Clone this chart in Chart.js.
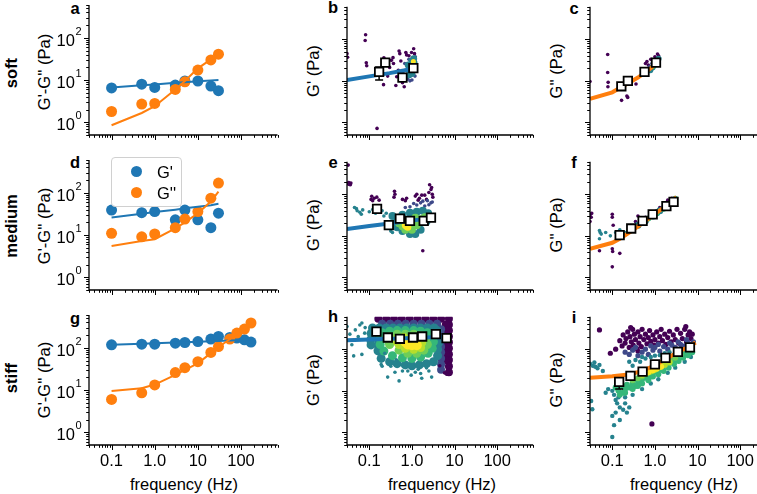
<!DOCTYPE html>
<html>
<head>
<meta charset="utf-8">
<script src="https://cdn.jsdelivr.net/npm/chart.js@4.4.0/dist/chart.umd.min.js"></script>
<style>
  body { margin: 0; background: #fff; overflow: hidden; }
  #fig { position: relative; width: 757px; height: 494px; overflow: hidden; background: #fff; }
  #fig canvas { position: absolute; }
  .t { position: absolute; font-family: "Liberation Sans", Arial, sans-serif; font-size: 16.5px; color: #000;
       white-space: nowrap; transform: translate(-50%, -50%); line-height: 1; }
  .r { transform: translate(-50%, -50%) rotate(-90deg); }
  .b { font-weight: bold; }
  #legend { position: absolute; left: 111px; top: 157px; width: 69px; height: 48px; border: 1px solid #d0d0d0;
            border-radius: 4px; background: rgba(255,255,255,0.85); }
  #legend .row { position: absolute; left: 0; height: 20px; width: 69px; }
  #legend .dot { position: absolute; left: 19px; top: 4px; width: 11px; height: 11px; border-radius: 50%; }
  #legend .lab { position: absolute; left: 45px; top: 1px; font-family: "Liberation Sans", Arial, sans-serif; font-size: 16.5px; }
</style>
</head>
<body>
<div id="fig">
  <div class="t r b" style="left:11px;top:73px">soft</div>
  <div class="t r b" style="left:11px;top:226px">medium</div>
  <div class="t r b" style="left:11px;top:378px">stiff</div>

  <div class="t r" style="left:44px;top:72px">G'-G'' (Pa)</div>
  <div class="t r" style="left:44px;top:226px">G'-G'' (Pa)</div>
  <div class="t r" style="left:44px;top:380px">G'-G'' (Pa)</div>
  <div class="t r" style="left:313px;top:71px">G' (Pa)</div>
  <div class="t r" style="left:313px;top:225px">G' (Pa)</div>
  <div class="t r" style="left:313px;top:380px">G' (Pa)</div>
  <div class="t r" style="left:556px;top:71px">G'' (Pa)</div>
  <div class="t r" style="left:556px;top:225px">G'' (Pa)</div>
  <div class="t r" style="left:556px;top:380px">G'' (Pa)</div>

  <div class="t" style="left:184px;top:484px">frequency (Hz)</div>
  <div class="t" style="left:442px;top:484px">frequency (Hz)</div>
  <div class="t" style="left:684px;top:484px">frequency (Hz)</div>

  <div class="t b" style="left:75px;top:8px">a</div>
  <div class="t b" style="left:333px;top:7px">b</div>
  <div class="t b" style="left:574px;top:8px">c</div>
  <div class="t b" style="left:75px;top:162px">d</div>
  <div class="t b" style="left:333px;top:162px">e</div>
  <div class="t b" style="left:574px;top:162px">f</div>
  <div class="t b" style="left:75px;top:318px">g</div>
  <div class="t b" style="left:333px;top:316px">h</div>
  <div class="t b" style="left:574px;top:317px">i</div>
</div>

<script>
// axis limits and ticks
const X_MIN = 0.03, X_MAX = 700;
const Y_MIN = 0.5, Y_MAX = 600;
const xTickVals = [0.1, 1, 10, 100];
const xTickText = ['0.1', '1.0', '10', '100'];
const yTickVals = [1, 10, 100];

// bulk rheology, left column
const freqSoft = [0.1, 0.5, 1, 3, 5, 10, 20, 30];
const softGp = [6.5, 8.0, 6.7, 7.6, 9.5, 9.5, 7.2, 5.6];
const softGpp = [1.8, 2.7, 2.8, 6.0, 9.1, 17.3, 30, 41];
const softGpFit = [6.7, 7.5, 7.9, 8.6, 8.9, 9.4, 9.8, 10.0];
const softGppFit = [0.85, 1.66, 2.4, 6.0, 9.5, 19, 31, 43];

const freqMed = [0.1, 0.5, 1, 3, 5, 10, 20, 30];
const medGp = [39, 34, 36, 23, 39, 23, 15, 33];
const medGpp = [11, 9.1, 10.6, 15, 24, 36, 75, 170];
const medGpFit = [26, 32, 35, 40, 43, 47, 51, 55];
const medGppFit = [5.5, 7.2, 8.0, 14.4, 20, 32.8, 62, 107];

const freqStiff = [0.1, 0.5, 1, 3, 5, 10, 20, 30, 55, 80, 120, 170];
const stiffGp = [118, 122, 122, 129, 134, 141, 161, 186, 177, 170, 155, 137];
const stiffGpp = [6.0, 8.6, 13.2, 26, 34, 47, 78, 107, 161, 224, 278, 388];
const stiffGpFit = [118, 125, 128, 133, 136, 139, 143, 145, 149, 151, 153, 155];
const stiffGppFit = [9.5, 11, 13.5, 22.8, 30, 43, 75, 105, 160, 220, 285, 390];

// binned medians (squares) and fits, middle + right columns
const bSqF = [0.17, 0.237, 0.6, 1.08];
const bSqV = [16.4, 27.3, 12.0, 20.1];
const bSqLo = [10.5, 24, 11.5, 19];
const bSqHi = [21.6, 32, 12.5, 21];
const bFitF = [0.03, 0.1, 0.3, 0.6, 1.1];
const bFitV = [10.5, 12.8, 15.3, 17.5, 19.5];

const cSqF = [0.163, 0.232, 0.57, 1.06];
const cSqV = [7.4, 10.0, 16.4, 27.3];
const cFitF = [0.03, 0.1, 0.16, 0.23, 0.4, 0.57, 0.8, 1.06, 1.3];
const cFitV = [3.7, 5.3, 7.0, 8.6, 12, 15.5, 20, 26, 31];

const eSqF = [0.152, 0.287, 0.522, 0.9, 1.89, 2.8];
const eSqV = [44.6, 18.0, 25.8, 22.8, 22.8, 27.3];
const eFitF = [0.03, 0.1, 0.3, 1, 3];
const eFitV = [14.5, 17.2, 19.8, 23.2, 27.3];

const fSqF = [0.149, 0.278, 0.514, 0.887, 1.86, 2.74];
const fSqV = [10.4, 15.0, 22.8, 32.8, 51.7, 65.3];
const fFitF = [0.03, 0.1, 0.15, 0.3, 0.5, 0.9, 1.9, 3.2];
const fFitV = [4.9, 6.8, 8.5, 13.5, 20, 31, 54, 85];

const hSqF = [0.147, 0.272, 0.522, 1.06, 1.74, 3.65, 6.5];
const hSqV = [265, 191, 178, 191, 202, 229, 184];
const hFitF = [0.03, 0.1, 0.3, 1, 3, 8];
const hFitV = [165, 172, 178, 185, 193, 200];

const iSqF = [0.145, 0.267, 0.514, 1.0, 1.77, 3.46, 6.64];
const iSqV = [16.4, 22.8, 28.8, 43, 61.9, 86, 111];
const iSqLo = [11.0, 21.5, 27.5, 41, 59, 83, 107];
const iSqHi = [20.6, 24, 30, 45, 64, 89, 115];
const iFitF = [0.03, 0.1, 0.27, 0.5, 1, 1.8, 3.5, 6.6, 9];
const iFitV = [20.5, 22.5, 25, 30, 41, 58, 86, 118, 145];

// single-cell measurements [frequency, modulus], grouped by local point density (low -> high)
const bDotsPurple = [[0.03,45],[0.031,37],[0.082,128],[0.08,93],[0.085,27],[0.087,23],[0.152,0.72],[0.216,8.1],[0.22,35.8],[0.36,36],[0.37,26],[0.33,31],[0.5,52],[0.52,45],[0.72,48],[0.75,42],[0.98,48],[1.1,59],[0.44,12.5],[0.42,7.7],[0.66,7.2],[0.6,9],[0.3,21],[0.55,30],[0.85,40],[1.15,45],[0.27,13],[0.48,18]];
const bDotsBlue = [[0.7,18],[0.75,13],[0.8,11],[0.9,10],[0.62,15],[0.68,26],[1.2,38],[1.18,13],[1.0,10.5],[0.85,33]];
const bDense1 = [[0.82,24],[0.9,19],[1.0,30],[1.1,34],[1.15,21],[1.0,15],[0.86,14],[1.12,27]];
const bDense2 = [[1.0,22],[1.1,25],[1.06,18]];
const bDense3 = [[1.1,24],[1.08,29]];

const cDotsPurple = [[0.03,9.6],[0.078,43],[0.078,15.8],[0.08,9.2],[0.079,7.2],[0.165,3.4],[0.22,4.3],[0.23,4.0],[0.36,8.4],[0.6,26],[0.65,29],[0.8,33],[1.0,38],[1.15,44],[1.22,40],[0.9,30],[0.7,24],[1.05,35]];
const cDotsBlue = [[0.75,22],[0.85,26],[1.0,31],[1.2,36],[0.65,18],[1.1,33]];
const cDense1 = [[0.78,18],[0.88,21],[0.97,24],[1.06,27],[1.15,30],[1.22,34]];
const cDense2 = [[0.92,22],[1.02,25],[1.12,28]];

const eDotsPurple = [[0.032,500],[0.033,190],[0.035,180],[0.034,172],[0.037,186],[0.036,168],[0.032,178],[0.114,89],[0.11,75],[0.13,80],[0.15,85],[0.17,72],[0.12,70],[0.39,117],[0.4,100],[0.38,85],[0.6,75],[0.7,70],[0.75,80],[1.2,90],[1.5,80],[2.0,95],[2.5,110],[2.6,169],[2.8,130],[3.0,100],[2.2,75],[1.8,4.4],[1.4,72],[3.1,85],[2.9,145],[1.3,100],[1.7,95]];
const eDotsBlue = [[1.1,60],[1.3,55],[1.6,62],[2.0,52],[2.5,56],[2.8,62],[0.9,50],[0.7,48],[3.0,65],[1.8,68],[2.3,70]];
const eDotsTeal = [[0.05,45],[0.052,40],[0.06,37],[0.07,42],[0.1,38],[0.12,43],[0.14,35],[0.2,40],[0.25,35],[0.3,15],[0.35,12],[0.32,13],[0.22,30],[0.045,48],[0.065,33]];
const eDense1 = [[0.35,30],[0.45,26],[0.6,32],[0.9,36],[1.3,38],[1.8,40],[2.4,35],[2.6,28],[2.2,22],[1.6,14],[1.2,11],[0.9,11],[0.6,13],[0.45,16],[0.5,22]];
const eDense2 = [[0.5,20],[0.6,17],[0.8,23],[1.0,20],[1.3,18],[1.0,14],[0.7,14],[1.6,25],[1.2,27],[2.0,28]];
const eDense3 = [[0.7,18],[0.8,16],[0.85,20],[0.75,17]];

const fDotsPurple = [[0.031,33],[0.032,28],[0.033,35],[0.03,22],[0.05,4.4],[0.1,33],[0.1,28],[0.105,18],[0.1,4.9],[0.102,4.2],[0.1,1.8],[0.15,3.8],[0.4,30],[0.45,27],[0.6,28],[1.3,48],[2.0,72],[2.5,80],[3.0,75],[1.5,42],[0.35,22],[2.8,60],[2.2,55]];
const fDotsTeal = [[0.05,13.4],[0.052,12],[0.05,8.5],[0.07,12],[0.12,12],[0.15,14],[0.09,10],[0.2,12],[0.055,11],[0.13,11]];
const fDense1 = [[0.3,15],[0.4,18],[0.6,23],[0.9,30],[1.3,40],[2.0,55],[2.8,70],[0.5,21],[1.1,36],[1.7,48]];
const fDense2 = [[0.7,26],[1.1,35],[1.6,45],[2.4,62],[3.0,78]];

const hDense0 = [[0.163,540],[0.249,540],[0.38,540],[0.58,540],[0.89,540],[1.36,540],[2.07,540],[3.16,540],[4.83,540],[7.38,540],
  [7.38,389],[7.38,280],[7.38,202],[7.38,146],[7.38,105],[7.38,76],[7.38,55],[7.38,39],[7.38,28],
  [6.2,389],[6.2,280],[6.2,202],[6.2,146],[6.2,105],[6.2,76],[6.2,55]];
const hDense1 = [[0.2,411],[0.308,411],[0.47,411],[0.718,411],[1.1,411],[1.67,411],[2.56,411],[3.9,411],
  [4.83,300],[4.83,220],[4.83,160],[4.83,115],[4.83,85],[4.83,60],[4.83,43],[4.83,32],[3.9,350],[3.9,250]];
const hDense2 = [[0.119,325],[0.172,325],[0.249,325],[0.36,325],[0.52,325],[0.757,325],[1.1,325],[1.59,325],[2.3,325],[3.33,325],
  [0.11,240],[0.11,175],[0.11,127],[0.16,240],[0.16,175],[0.16,127],[0.16,92],
  [0.19,60],[0.3,50],[0.45,45],[0.7,42],[1.0,40],[1.5,42],[2.2,45],[3.2,50],
  [4,70],[4,100],[4.2,140],[3.8,200],[3.9,280]];
const hDense3 = [[0.2,250],[0.3,270],[0.45,280],[0.7,280],[1.1,280],[1.6,270],[2.3,250],[3,200],[3.2,150],[3,105],[2.4,80],[1.6,65],[1.0,60],[0.6,62],[0.35,70],[0.22,90],[0.18,130],[0.18,180]];
const hDense4 = [[0.3,200],[0.45,230],[0.7,230],[1.1,230],[1.6,210],[2.1,170],[2.3,130],[1.9,95],[1.3,80],[0.8,80],[0.5,95],[0.3,130],[0.28,160]];
const hDense5 = [[0.45,180],[0.65,190],[0.95,190],[1.35,175],[1.7,145],[1.6,110],[1.1,100],[0.7,105],[0.5,130],[0.45,150]];
const hDense6 = [[0.7,150],[0.9,160],[1.15,145],[1.0,125],[0.8,130],[1.3,125]];
const hDotsTeal = [[0.03,349],[0.047,291],[0.067,427],[0.078,243],[0.039,128],[0.043,69],[0.067,75],[0.095,152],[0.055,200],[0.08,330],[0.035,230],[0.06,380],
  [0.19,43],[0.2,39],[0.32,39],[0.27,21.4],[0.5,17.3],[0.6,30],[0.96,23.8],[1.6,26],[1.7,20],[2.9,21.4],[1.4,32.9],[2.2,35.6],[0.23,80],[0.43,56],[0.4,28],[0.8,30],[1.2,28],[2.5,30]];
const hDotsPurple = [[7.1,30],[5.8,27],[7.5,45],[4.5,40],[6.5,25],[8,60]];

const iDotsPurple = [[0.15,160],[0.17,120],[0.18,220],[0.2,140],[0.21,180],[0.23,260],[0.25,110],[0.26,200],[0.28,150],[0.3,300],[0.31,125],[0.33,230],[0.35,170],[0.37,105],[0.4,260],[0.42,140],[0.45,200],[0.48,115],[0.5,300],[0.55,170],[0.6,230],[0.65,135],[0.7,190],[0.75,280],[0.8,155],[0.9,220],[0.95,125],[1.0,170],[1.1,260],[1.2,140],[1.3,200],[1.4,300],[1.5,160],[1.7,230],[1.8,130],[2.0,190],[2.2,270],[2.4,150],[2.7,220],[3.0,170],[3.3,300],[3.6,140],[4.0,240],[4.4,180],[5.0,300],[5.3,350],[5.5,150],[6.0,220],[6.5,260],[7.0,180],[7.5,230],[0.05,290],[0.27,330],[0.12,100],[0.09,80],[0.4,90],[0.85,1.6]];
const iDotsBlue = [[0.2,85],[0.25,75],[0.3,95],[0.4,70],[0.5,85],[0.6,100],[0.7,75],[0.9,95],[1.0,110],[1.3,90],[1.6,115],[2,100],[2.5,125],[3,110],[4,130],[5,120],[6,140],[7,130],[8,150],[0.35,110],[0.8,120],[1.2,130],[2.2,140],[3.5,150],[5.5,170]];
const iDotsTeal = [[0.25,50],[0.35,55],[0.45,50],[0.6,60],[0.8,65],[1.0,70],[1.3,72],[1.7,80],[2.2,85],[3,90],[4,100],[5,95],[6.5,110],[0.5,65],[0.3,40],
  [0.03,45],[0.035,40],[0.04,38],[0.05,42],[0.06,30],[0.045,35],[0.038,48],
  [0.1,10],[0.11,8],[0.12,6],[0.13,5],[0.14,7],[0.15,4],[0.16,9],[0.18,3.5],[0.2,5],[0.22,3],[0.12,3],[0.1,2.5],[0.15,2],[0.11,1.5],[0.1,0.78],[0.2,7],[0.25,4],[0.08,11],[0.07,9],[0.032,5.7],[0.034,3.6],
  [0.3,8],[0.5,11],[0.8,15],[1.2,19],[2,27],[3,36],[5,50],[7,65]];
const iDotsGreen = [[0.12,12],[0.14,10],[0.16,13],[0.18,9],[0.2,11],[0.22,14],[0.25,12],[0.3,15],[0.35,13],[0.4,17],[0.5,19],[0.6,21],[0.7,24],[0.8,22],[1,29],[1.2,31],[1.5,36],[1.8,40],[2.2,47],[2.7,54],[3.3,60],[4,70],[5,80],[6,90],[7,100],[0.45,23],[0.9,35],[1.4,45],[2.5,62],
  [0.15,8],[0.2,9],[0.3,11],[0.4,13],[0.5,15],[0.7,18],[0.9,22],[1.2,25],[1.6,30],[2.1,36],[2.8,44],[3.6,52],[4.6,62],[6,72],[7.5,85]];
const iDotsLight = [[0.3,18],[0.4,20],[0.5,22],[0.6,25],[0.7,27],[0.9,30],[1.1,34],[1.4,39],[1.8,45],[2.3,52],[3,62],[4,75]];
const iDotsLime = [[0.5,24],[0.65,27],[0.8,29],[1.0,32],[1.3,37],[1.7,42],[2.2,48]];
const iDotsYellow = [[0.7,28],[0.9,31],[1.1,34],[1.4,38]];

// ---- styling / layout ----
const C0 = '#1f77b4', C1 = '#ff7f0e';
const VIR = ['#440154', '#3e4989', '#26828e', '#35b779', '#6ece58', '#b5de2b', '#fde725'];
const FONT = '"Liberation Sans", Arial, sans-serif';
const colLeft = [89, 347, 590];
const rowTop = [5, 160, 315];
const AW = 190, AH = 130, PADL = 60, PADT = 6, PADR = 4, PADB = 32;

Chart.defaults.font.family = FONT;
Chart.defaults.color = '#000';

const toPts = (xs, ys) => xs.map((x, i) => ({ x, y: ys[i] }));
const markers = (xs, ys, c) => ({ data: toPts(xs, ys), pointRadius: 5.5, backgroundColor: c, borderWidth: 0 });
const fitLine = (xs, ys, c, w) => ({ data: toPts(xs, ys), showLine: true, borderColor: c, borderWidth: w, pointRadius: 0, tension: 0 });
const cloud = (pairs, c, r) => ({ data: pairs.map(p => ({ x: p[0], y: p[1] })), pointRadius: r, backgroundColor: c, borderWidth: 0, clip: 0 });
const squares = (xs, ys, lo, hi) => ({ data: toPts(xs, ys), pointStyle: 'rect', pointRadius: 6, backgroundColor: '#fff',
  borderColor: '#000', borderWidth: 1.8, errLo: lo, errHi: hi });

// tick marks, spines and 10^n labels
const axesPlugin = {
  id: 'axes',
  afterDraw(chart, args, opts) {
    const { ctx, chartArea: a, scales: { x, y } } = chart;
    ctx.save();
    ctx.strokeStyle = '#000';
    ctx.lineWidth = 1;
    for (let e = -3; e <= 3; e++) {
      for (let k = 1; k <= 9; k++) {
        const v = k * Math.pow(10, e);
        const len = k === 1 ? 5 : 2.8;
        if (v >= X_MIN * 0.999 && v <= X_MAX * 1.001) {
          const px = Math.round(x.getPixelForValue(v)) + 0.5;
          ctx.beginPath(); ctx.moveTo(px, a.bottom); ctx.lineTo(px, a.bottom + len); ctx.stroke();
        }
        if (v >= Y_MIN * 0.999 && v <= Y_MAX * 1.001) {
          const py = Math.round(y.getPixelForValue(v)) + 0.5;
          ctx.beginPath(); ctx.moveTo(a.left, py); ctx.lineTo(a.left - len, py); ctx.stroke();
        }
      }
    }
    ctx.lineWidth = 1.3;
    ctx.beginPath();
    ctx.moveTo(a.left, a.top); ctx.lineTo(a.left, a.bottom); ctx.lineTo(a.right, a.bottom);
    ctx.stroke();

    if (opts.expLabels) {
      ctx.fillStyle = '#000';
      ctx.textAlign = 'right';
      ctx.textBaseline = 'alphabetic';
      const right = a.left - 7.5;
      yTickVals.forEach(v => {
        const py = y.getPixelForValue(v);
        const ex = String(Math.round(Math.log10(v)));
        ctx.font = '11px ' + FONT;
        const ew = ctx.measureText(ex).width;
        ctx.fillText(ex, right, py - 3);
        ctx.font = '16.5px ' + FONT;
        ctx.fillText('10', right - ew - 0.5, py + 8);
      });
    }
    ctx.restore();
  }
};

// error bars under the binned squares
const errPlugin = {
  id: 'errbars',
  beforeDatasetDraw(chart, args) {
    const ds = chart.data.datasets[args.index];
    if (!ds.errLo) return;
    const { ctx, scales: { x, y } } = chart;
    ctx.save();
    ctx.strokeStyle = '#000';
    ctx.lineWidth = 1.5;
    ds.data.forEach((p, i) => {
      const px = x.getPixelForValue(p.x);
      const lo = y.getPixelForValue(ds.errLo[i]), hi = y.getPixelForValue(ds.errHi[i]);
      ctx.beginPath();
      ctx.moveTo(px, lo); ctx.lineTo(px, hi);
      ctx.moveTo(px - 4, lo); ctx.lineTo(px + 4, lo);
      ctx.moveTo(px - 4, hi); ctx.lineTo(px + 4, hi);
      ctx.stroke();
    });
    ctx.restore();
  }
};

function panel(col, row, datasets) {
  const W = PADL + AW + PADR, H = PADT + AH + PADB;
  const cv = document.createElement('canvas');
  cv.width = W; cv.height = H;
  cv.style.left = (colLeft[col] - PADL) + 'px';
  cv.style.top = (rowTop[row] - PADT) + 'px';
  cv.style.width = W + 'px'; cv.style.height = H + 'px';
  document.getElementById('fig').appendChild(cv);

  // first dataset at the bottom, last on top
  const n = datasets.length;
  datasets.forEach((d, i) => { d.order = n - i; });

  new Chart(cv, {
    type: 'scatter',
    data: { datasets },
    options: {
      responsive: false,
      animation: false,
      devicePixelRatio: 1,
      events: [],
      layout: { padding: { left: 0, top: PADT, right: PADR, bottom: 0 } },
      plugins: { legend: { display: false }, tooltip: { enabled: false }, axes: { expLabels: col === 0 } },
      scales: {
        x: {
          type: 'logarithmic', min: X_MIN, max: X_MAX,
          border: { display: false },
          grid: { display: false, drawTicks: true, tickLength: 5 },
          afterBuildTicks: s => { s.ticks = xTickVals.map(v => ({ value: v })); },
          ticks: { display: row === 2, autoSkip: false, maxRotation: 0, padding: 2, color: '#000',
                   font: { size: 16.5 }, callback: (v, i) => xTickText[i] },
          afterFit: s => { s.height = PADB; }
        },
        y: {
          type: 'logarithmic', min: Y_MIN, max: Y_MAX,
          border: { display: false },
          grid: { display: false, drawTicks: true, tickLength: 5 },
          afterBuildTicks: s => { s.ticks = yTickVals.map(v => ({ value: v })); },
          ticks: { display: false },
          afterFit: s => { s.width = PADL; }
        }
      }
    },
    plugins: [axesPlugin, errPlugin]
  });
}

// left column: bulk G', G''
panel(0, 0, [markers(freqSoft, softGp, C0), markers(freqSoft, softGpp, C1),
  fitLine(freqSoft, softGpFit, C0, 2), fitLine(freqSoft, softGppFit, C1, 2)]);
panel(0, 1, [markers(freqMed, medGp, C0), markers(freqMed, medGpp, C1),
  fitLine(freqMed, medGpFit, C0, 2), fitLine(freqMed, medGppFit, C1, 2)]);
panel(0, 2, [markers(freqStiff, stiffGp, C0), markers(freqStiff, stiffGpp, C1),
  fitLine(freqStiff, stiffGpFit, C0, 2), fitLine(freqStiff, stiffGppFit, C1, 2)]);

// middle column: G' per cell
panel(1, 0, [cloud(bDotsPurple, VIR[0], 1.8), cloud(bDotsBlue, VIR[1], 1.8),
  cloud(bDense1, VIR[2], 3.5), cloud(bDense2, VIR[3], 3), cloud(bDense3, VIR[6], 2.5),
  fitLine(bFitF, bFitV, C0, 4), squares(bSqF, bSqV, bSqLo, bSqHi)]);
panel(1, 1, [cloud(eDotsPurple, VIR[0], 1.8), cloud(eDotsBlue, VIR[1], 1.8), cloud(eDotsTeal, VIR[2], 1.8),
  cloud(eDense1, VIR[2], 4), cloud(eDense2, VIR[4], 4), cloud(eDense3, VIR[6], 3.5),
  fitLine(eFitF, eFitV, C0, 4), squares(eSqF, eSqV)]);
panel(1, 2, [cloud(hDense0, VIR[0], 4), cloud(hDense1, VIR[1], 4), cloud(hDense2, VIR[2], 4.5),
  cloud(hDense3, VIR[3], 4.5), cloud(hDense4, VIR[4], 4.5), cloud(hDense5, VIR[5], 4.5), cloud(hDense6, VIR[6], 5),
  cloud(hDotsTeal, VIR[2], 1.8), cloud(hDotsPurple, VIR[0], 1.8),
  fitLine(hFitF, hFitV, C0, 4), squares(hSqF, hSqV)]);

// right column: G'' per cell
panel(2, 0, [cloud(cDotsPurple, VIR[0], 1.8), cloud(cDotsBlue, VIR[1], 1.8),
  cloud(cDense1, VIR[2], 3), cloud(cDense2, VIR[3], 2.5),
  fitLine(cFitF, cFitV, C1, 4), squares(cSqF, cSqV)]);
panel(2, 1, [cloud(fDotsPurple, VIR[0], 1.8), cloud(fDotsTeal, VIR[2], 1.8),
  cloud(fDense1, VIR[2], 3.5), cloud(fDense2, VIR[3], 3),
  fitLine(fFitF, fFitV, C1, 4), squares(fSqF, fSqV)]);
panel(2, 2, [cloud(iDotsPurple, VIR[0], 2.6), cloud(iDotsBlue, VIR[1], 2.6), cloud(iDotsTeal, VIR[2], 2.2),
  cloud(iDotsGreen, VIR[3], 3), cloud(iDotsLight, VIR[4], 3), cloud(iDotsLime, VIR[5], 3), cloud(iDotsYellow, VIR[6], 3),
  fitLine(iFitF, iFitV, C1, 4), squares(iSqF, iSqV, iSqLo, iSqHi)]);

// legend of panel d
const legend = document.createElement('div');
legend.id = 'legend';
legend.innerHTML =
  '<div class="row" style="top:4px"><span class="dot" style="background:' + C0 + '"></span><span class="lab">G\'</span></div>' +
  '<div class="row" style="top:25px"><span class="dot" style="background:' + C1 + '"></span><span class="lab">G\'\'</span></div>';
document.getElementById('fig').appendChild(legend);
</script>
</body>
</html>
